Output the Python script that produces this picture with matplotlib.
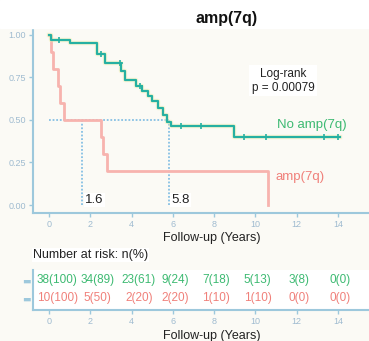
import matplotlib
matplotlib.use("Agg")
from matplotlib import pyplot as plt
from matplotlib.patches import Rectangle
import numpy as np

plt.rcParams['font.family'] = ['Liberation Sans', 'DejaVu Sans']

# survival curves (step functions)
green_t = [0, 0.1, 1.0, 2.3, 2.7, 3.5, 3.7, 4.2, 4.5, 4.8, 5.0, 5.3, 5.5, 5.7, 5.9, 8.95, 14.1]
green_s = [1.0, 0.97, 0.95, 0.89, 0.835, 0.79, 0.735, 0.70, 0.67, 0.64, 0.61, 0.57, 0.53, 0.49, 0.465, 0.40, 0.40]
green_cens_t = [0.5, 2.5, 3.45, 4.4, 6.4, 7.35, 9.45, 10.5, 13.3, 14.0]

red_t = [0, 0.1, 0.2, 0.45, 0.55, 0.7, 2.5, 2.6, 2.8, 10.6]
red_s = [1.0, 0.9, 0.8, 0.7, 0.6, 0.5, 0.4, 0.3, 0.2, 0.0]

medians = [1.6, 5.8]

# number at risk
risk_times = [0, 2, 4, 6, 8, 10, 12, 14]
green_n = [38, 34, 23, 9, 7, 5, 3, 0]
green_pct = [100, 89, 61, 24, 18, 13, 8, 0]
red_n = [10, 5, 2, 2, 1, 1, 0, 0]
red_pct = [100, 50, 20, 20, 10, 10, 0, 0]

green = '#26b0a2'
green_txt = '#3dba72'
red = '#f7b3ae'
red_txt = '#f0807a'
axcol = '#9dc8dc'
tickcol = '#9fbbd0'
dotcol = '#86c0e4'

W, H = 369, 341
fig = plt.figure(figsize=(W / 100, H / 100), dpi=100, facecolor='#fbfaf5')
fig.patches.append(Rectangle((0, 1 - 28 / H), 1, 28 / H, transform=fig.transFigure,
                             color='white', zorder=0))

x0 = -0.78
x1 = 15.5
ax = fig.add_axes([33 / W, 1 - 213 / H, 1 - 33 / W, 185 / H])
ax.set_facecolor('none')
ax.set_xlim(x0, x1)
ax.set_ylim(-0.047, 1.04)

# median lines
ax.plot([0, medians[1]], [0.5, 0.5], color=dotcol, ls=(0, (1, 1)), lw=1.3, zorder=1)
for m in medians:
    ax.plot([m, m], [0, 0.5], color=dotcol, ls=(0, (1, 1)), lw=1.3, zorder=1)

ax.step(red_t, red_s, where='post', color=red, lw=2, zorder=2)
ax.step(green_t, green_s, where='post', color='#f4f0b0', lw=3.2, alpha=0.5, zorder=2)
ax.step(green_t, green_s, where='post', color=green, lw=1.6, zorder=3)
gs = [green_s[np.searchsorted(green_t, c, side='right') - 1] for c in green_cens_t]
ax.plot(green_cens_t, gs, ls='none', marker='+', ms=4, mew=1.2, color=green, zorder=4)

for m in medians:
    ax.annotate(str(m), (m, 0.03), xytext=(2, 0), textcoords='offset points',
                ha='left', va='center', fontsize=9.5, color='#222222',
                bbox=dict(boxstyle='square,pad=0.1', fc='white', ec='none'))

ax.text(11.34, 0.73, 'Log-rank\np = 0.00079', ha='center', va='center', fontsize=8.5,
        color='#222222', linespacing=1.2,
        bbox=dict(boxstyle='square,pad=0.2', fc='white', ec='none'))
ax.text(12.74, 0.47, 'No amp(7q)', ha='center', va='center', fontsize=9.5, color=green_txt)
ax.text(12.16, 0.165, 'amp(7q)', ha='center', va='center', fontsize=9.5, color=red_txt)

ax.set_xticks(risk_times)
ax.set_yticks([0, 0.25, 0.5, 0.75, 1.0])
ax.set_yticklabels(['0.00', '0.25', '0.50', '0.75', '1.00'])
for s in ['top', 'right']:
    ax.spines[s].set_visible(False)
for s in ['left', 'bottom']:
    ax.spines[s].set_color(axcol)
    ax.spines[s].set_linewidth(1.5)
ax.tick_params(colors=axcol, labelcolor=tickcol, labelsize=6.5, length=3, width=1, pad=2)

fig.text(212 / W, 1 - 238 / H, 'Follow-up (Years)', ha='center', va='center',
         fontsize=9, color='#222222')
fig.text(227 / W, 1 - 19 / H, 'amp(7q)', ha='center', va='center',
         fontsize=11.5, fontweight='bold', color='#111111')
fig.text(33 / W, 1 - 255 / H, 'Number at risk: n(%)', ha='left', va='center',
         fontsize=9, color='#222222',
         bbox=dict(boxstyle='square,pad=0.1', fc='white', ec='none'))

# risk table
rax = fig.add_axes([33 / W, 1 - 310 / H, 1 - 33 / W, 40 / H])
rax.set_facecolor('white')
rax.set_xlim(x0, x1)
rax.set_ylim(0, 1)
rows = [(0.75, green_n, green_pct, green_txt), (0.3, red_n, red_pct, red_txt)]
for y, ns, ps, c in rows:
    for i, (t, n, p) in enumerate(zip(risk_times, ns, ps)):
        if i == 0:
            rax.text(-0.6, y, '%d(%d)' % (n, p), ha='left', va='center', fontsize=8.5, color=c)
        elif i < 3:
            rax.text(t + 0.35, y, '%d(%d)' % (n, p), ha='center', va='center', fontsize=8.5, color=c)
        else:
            rax.text(t + 0.1, y, '%d(%d)' % (n, p), ha='center', va='center', fontsize=8.5, color=c)
rax.set_xticks(risk_times)
rax.set_yticks([0.75, 0.3])
rax.set_yticklabels(['▬', '▬'], family='DejaVu Sans', fontsize=6)
for lab, c in zip(rax.get_yticklabels(), [green, red]):
    lab.set_color(c)
for s in ['top', 'right']:
    rax.spines[s].set_visible(False)
for s in ['left', 'bottom']:
    rax.spines[s].set_color(axcol)
    rax.spines[s].set_linewidth(1.5)
rax.tick_params(colors=axcol, labelsize=6.5, length=3, width=1, pad=2)
rax.tick_params(axis='x', labelcolor=tickcol)
rax.tick_params(axis='y', length=0)

fig.text(212 / W, 1 - 336 / H, 'Follow-up (Years)', ha='center', va='center',
         fontsize=9, color='#222222')

plt.savefig('out.png', dpi=100, facecolor=fig.get_facecolor())
